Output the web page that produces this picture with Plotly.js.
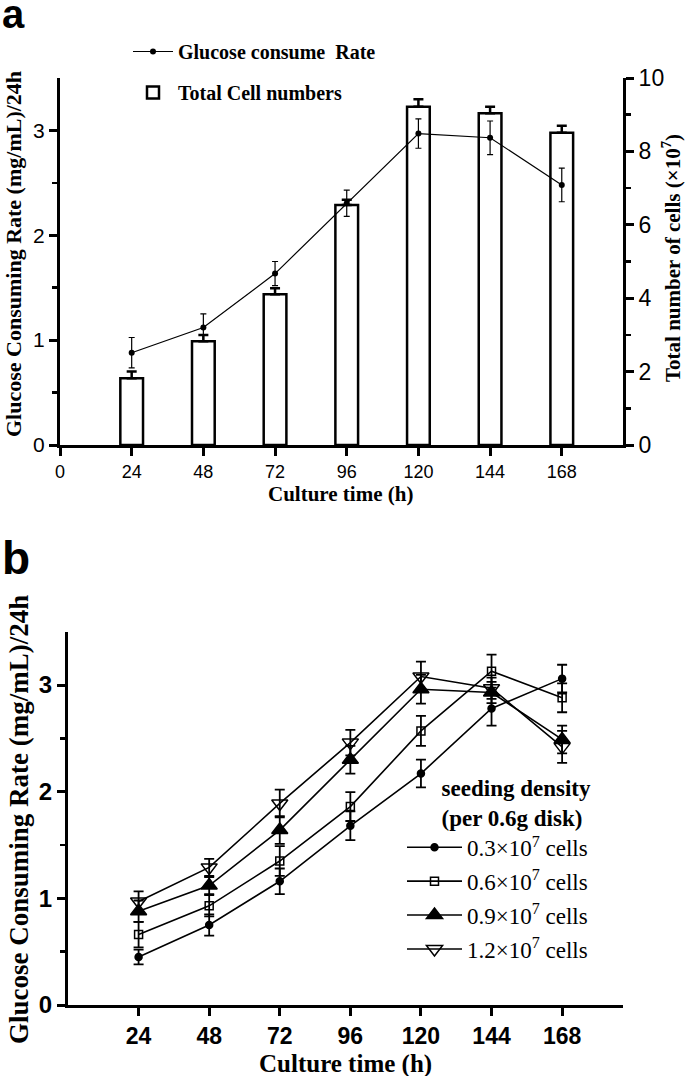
<!DOCTYPE html>
<html>
<head>
<meta charset="utf-8">
<script src="https://cdn.plot.ly/plotly-3.0.1.min.js"></script>
<style>html,body{margin:0;padding:0;background:#fff;}#chart{width:685px;height:1076px;}</style>
</head>
<body>
<div id="chart"></div>
<script>
// ---------- Data ----------
const times = [24, 48, 72, 96, 120, 144, 168];
const xTickVals = [0, 24, 48, 72, 96, 120, 144, 168];
const xTickValsB = [24, 48, 72, 96, 120, 144, 168];

// Panel a
const cellNumbers = [1.82, 2.83, 4.11, 6.54, 9.22, 9.04, 8.51];
const cellErr = [0.18, 0.17, 0.16, 0.14, 0.20, 0.18, 0.19];
const glucoseRate = [0.88, 1.12, 1.635, 2.305, 2.97, 2.93, 2.48];
const glucoseErr = [0.145, 0.13, 0.115, 0.125, 0.14, 0.16, 0.16];

// Panel b
const seedLabels = ["0.3×10<sup>7</sup> cells", "0.6×10<sup>7</sup> cells", "0.9×10<sup>7</sup> cells", "1.2×10<sup>7</sup> cells"];
const rate03 = [0.45, 0.75, 1.16, 1.68, 2.17, 2.78, 3.06];
const err03 = [0.07, 0.10, 0.12, 0.135, 0.13, 0.16, 0.13];
const rate06 = [0.66, 0.93, 1.35, 1.86, 2.57, 3.13, 2.88];
const err06 = [0.12, 0.10, 0.14, 0.135, 0.14, 0.155, 0.135];
const rate09 = [0.88, 1.12, 1.64, 2.30, 2.96, 2.93, 2.49];
const err09 = [0.10, 0.08, 0.13, 0.13, 0.135, 0.10, 0.13];
const rate12 = [0.97, 1.29, 1.89, 2.46, 3.08, 2.97, 2.42];
const err12 = [0.095, 0.08, 0.13, 0.12, 0.14, 0.10, 0.15];

// ---------- Helpers ----------
const W = 685, H = 1076;
const px = v => v / W;
const py = v => 1 - v / H;
const serif = "Liberation Serif, Times New Roman, serif";
const sans = "Liberation Sans, Arial, sans-serif";

const traces = [];
// bars on y (right axis)
traces.push({
  type: 'bar', x: times, y: cellNumbers, xaxis: 'x', yaxis: 'y',
  width: 7.6, name: 'Total Cell numbers', legend: 'legend', legendgroup: 'g2',
  marker: {color: 'white', line: {color: 'black', width: 2.5}},
  error_y: {type: 'data', array: cellErr, symmetric: false, arrayminus: cellErr.map(() => 0), color: 'black', thickness: 2.5, width: 5}
});
// line on y2 (left axis)
traces.push({
  type: 'scatter', mode: 'lines+markers', x: times, y: glucoseRate, xaxis: 'x', yaxis: 'y2',
  name: 'Glucose consume\u00A0 Rate', legend: 'legend', legendgroup: 'g1', legendrank: 1,
  line: {color: 'black', width: 1.2}, marker: {color: 'black', size: 6, symbol: 'circle'},
  error_y: {type: 'data', array: glucoseErr, color: 'black', thickness: 1.2, width: 3}
});

const seriesB = [
  {y: rate03, e: err03, sym: 'circle', size: 7, color: 'black'},
  {y: rate06, e: err06, sym: 'square-open', size: 8, color: 'black'},
  {y: rate09, e: err09, sym: 'triangle-up', size: 14, color: 'black'},
  {y: rate12, e: err12, sym: 'triangle-down-open', size: 14, color: 'black'}
];
seriesB.forEach((s, i) => {
  traces.push({
    type: 'scatter', mode: 'lines+markers', x: times, y: s.y, xaxis: 'x2', yaxis: 'y3',
    name: seedLabels[i], legend: 'legend2', legendgroup: 'b' + i,
    line: {color: 'black', width: 1.6},
    marker: {symbol: s.sym, size: s.size, color: s.color, line: {color: 'black', width: 1.5}},
    error_y: {type: 'data', array: s.e, color: 'black', thickness: 1.8, width: 5}
  });
});

const axisCommon = {
  showline: true, linecolor: 'black', linewidth: 3, ticks: 'outside', ticklen: 8, tickwidth: 3,
  tickcolor: 'black', showgrid: false, zeroline: false, fixedrange: true
};

const layout = {
  width: W, height: H,
  margin: {l: 0, r: 0, t: 0, b: 0},
  paper_bgcolor: 'white', plot_bgcolor: 'rgba(0,0,0,0)',
  showlegend: true,
  xaxis: Object.assign({}, axisCommon, {
    domain: [px(60), px(623)], range: [0, 188.5], anchor: 'y',
    tickvals: xTickVals, ticktext: xTickVals.map(String),
    tickfont: {family: sans, size: 18, color: 'black'}
  }),
  yaxis: Object.assign({}, axisCommon, {
    domain: [py(445), py(78)], range: [0, 10], side: 'right', anchor: 'x',
    tickvals: [0, 2, 4, 6, 8, 10],
    minor: {tickvals: [1, 3, 5, 7, 9], ticks: 'outside', ticklen: 5, tickwidth: 2.5, tickcolor: 'black'},
    tickfont: {family: sans, size: 23, color: 'black'}
  }),
  yaxis2: Object.assign({}, axisCommon, {
    range: [0, 3.5], side: 'left', overlaying: 'y', anchor: 'x',
    tickvals: [0, 1, 2, 3],
    minor: {tickvals: [0.5, 1.5, 2.5], ticks: 'outside', ticklen: 5, tickwidth: 2.5, tickcolor: 'black'},
    tickfont: {family: sans, size: 21, color: 'black'}
  }),
  xaxis2: Object.assign({}, axisCommon, {
    domain: [px(68), px(623)], range: [0, 188.7], anchor: 'y3', ticklen: 8,
    tickvals: xTickValsB, ticktext: xTickValsB.map(String),
    tickfont: {family: sans, size: 23, color: 'black', weight: 'bold'}
  }),
  yaxis3: Object.assign({}, axisCommon, {
    domain: [py(1005), py(631.7)], range: [0, 3.5], anchor: 'x2',
    tickvals: [0, 1, 2, 3],
    minor: {tickvals: [0.5, 1.5, 2.5], ticks: 'outside', ticklen: 5, tickwidth: 2.5, tickcolor: 'black'},
    tickfont: {family: sans, size: 24, color: 'black', weight: 'bold'}
  }),
  legend: {
    x: px(128), y: py(32), xanchor: 'left', yanchor: 'top',
    bgcolor: 'rgba(0,0,0,0)', borderwidth: 0, tracegroupgap: 12,
    traceorder: 'grouped', itemwidth: 40,
    font: {family: serif, size: 20, color: 'black', weight: 'bold'}
  },
  legend2: {
    x: px(402), y: py(766), xanchor: 'left', yanchor: 'top',
    bgcolor: 'rgba(0,0,0,0)', borderwidth: 0, tracegroupgap: 1,
    traceorder: 'grouped', itemwidth: 55,
    title: {text: 'seeding density<br>(per 0.6g disk)', side: 'top right', font: {family: serif, size: 23, color: 'black', weight: 'bold'}},
    font: {family: serif, size: 23, color: 'black'}
  },
  annotations: [
    {text: 'a', xref: 'paper', yref: 'paper', x: px(0), y: py(14), xanchor: 'left', yanchor: 'middle', showarrow: false,
     font: {family: sans, size: 40, color: 'black', weight: 'bold'}},
    {text: 'b', xref: 'paper', yref: 'paper', x: px(0), y: py(530), xanchor: 'left', yanchor: 'top', showarrow: false,
     font: {family: sans, size: 46, color: 'black', weight: 'bold'}},
    {text: 'Glucose Consuming Rate (mg/mL)/24h', xref: 'paper', yref: 'paper', x: px(13), y: py(254), textangle: -90,
     xanchor: 'center', yanchor: 'middle', showarrow: false, font: {family: serif, size: 22, color: 'black', weight: 'bold'}},
    {text: 'Total number of cells (×10<sup>7</sup>)', xref: 'paper', yref: 'paper', x: px(671), y: py(258), textangle: -90,
     xanchor: 'center', yanchor: 'middle', showarrow: false, font: {family: serif, size: 21, color: 'black', weight: 'bold'}},
    {text: 'Culture time (h)', xref: 'paper', yref: 'paper', x: px(340), y: py(494),
     xanchor: 'center', yanchor: 'middle', showarrow: false, font: {family: serif, size: 21, color: 'black', weight: 'bold'}},
    {text: 'Glucose Consuming Rate (mg/mL)/24h', xref: 'paper', yref: 'paper', x: px(19), y: py(820), textangle: -90,
     xanchor: 'center', yanchor: 'middle', showarrow: false, font: {family: serif, size: 27, color: 'black', weight: 'bold'}},
    {text: 'Culture time (h)', xref: 'paper', yref: 'paper', x: px(345), y: py(1064),
     xanchor: 'center', yanchor: 'middle', showarrow: false, font: {family: serif, size: 25, color: 'black', weight: 'bold'}}
  ]
};

Plotly.newPlot('chart', traces, layout, {displayModeBar: false, staticPlot: true});
</script>
</body>
</html>
